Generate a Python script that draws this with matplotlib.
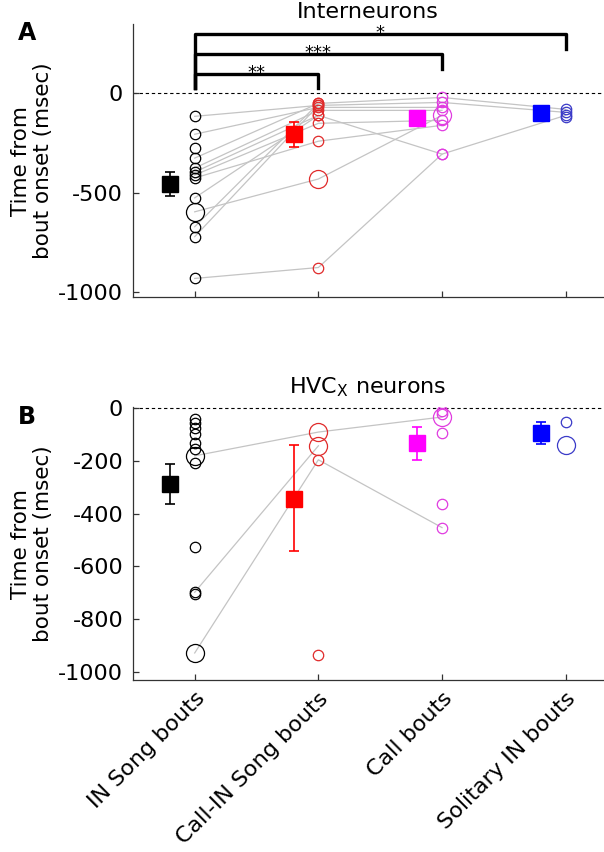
import numpy as np
import matplotlib
matplotlib.use("Agg")
import matplotlib.pyplot as plt

plt.rcParams["font.family"] = ["DejaVu Sans"]
plt.rcParams["axes.unicode_minus"] = False
plt.rcParams["mathtext.fontset"] = "dejavusans"

categories = ["IN Song bouts", "Call-IN Song bouts", "Call bouts", "Solitary IN bouts"]
nan = np.nan

# Panel A (interneurons): one entry per neuron, NaN = not recorded in that bout type
a_song = [-115, -205, -275, -325, -375, -395, -410, -425, -525, -595, -670, -720, -930, nan]
a_callin = [-60, -70, nan, -50, -85, -110, -150, -240, -110, -430, -50, -60, -875, nan]
a_call = [-45, -70, nan, -20, -85, -305, -135, -160, nan, -110, nan, nan, -305, nan]
a_solo = [-95, nan, nan, -80, nan, -110, nan, nan, nan, nan, nan, nan, nan, -120]
a_big = [(0, 9), (1, 9), (2, 9)]          # (category, neuron) with many bouts
a_mean = [-455, -205, -125, -100]
a_err_lo = [60, 65, 10, 10]
a_err_hi = [60, 60, 10, 10]

# Panel B (HVCx neurons)
b_song = [-42, -57, -75, -98, -132, -155, -181, -208, -528, -698, -706, -928,
          nan, nan, nan, nan, nan, nan, nan]
b_callin = [nan, nan, nan, nan, nan, nan, -91, nan, nan, -143, nan, -196,
            -936, nan, nan, nan, nan, nan, nan]
b_call = [nan, nan, nan, nan, nan, nan, -34, nan, nan, nan, nan, -453,
          nan, -11, -23, -94, -362, nan, nan]
b_solo = [nan, nan, nan, nan, nan, nan, nan, nan, nan, nan, nan, nan,
          nan, nan, nan, nan, nan, -53, -140]
b_big = [(0, 6), (0, 11), (1, 6), (1, 9), (2, 6), (3, 18)]
b_mean = [-287, -343, -132, -94]
b_err_lo = [75, 200, 64, 42]
b_err_hi = [76, 203, 60, 41]

# significance brackets for panel A: (from, to, stars)
brackets = [(1, 2, "**"), (1, 3, "***"), (1, 4, "*")]

mean_colors = ["black", "#ff0000", "#ff00ff", "#0000ff"]
circ_colors = ["black", "#e02a2a", "#e03ce0", "#3a3ac8"]
x = np.arange(1, 5)


def draw_panel(ax, cols, big, means, lo, hi):
    data = np.array(cols, dtype=float)  # shape (4, n)
    for n in range(data.shape[1]):
        ok = ~np.isnan(data[:, n])
        if ok.sum() > 1:
            ax.plot(x[ok], data[ok, n], color="#c4c4c4", lw=0.9, zorder=1)
    for c in range(4):
        for n in range(data.shape[1]):
            v = data[c, n]
            if np.isnan(v):
                continue
            ms = 13 if (c, n) in big else 7.5
            ax.plot(x[c], v, "o", ms=ms, mfc="none", mec=circ_colors[c], mew=0.9, zorder=3)
        ax.errorbar(x[c] - 0.2, means[c], yerr=[[lo[c]], [hi[c]]], fmt="s", ms=11.5,
                    color=mean_colors[c], ecolor=mean_colors[c], elinewidth=1.2,
                    capsize=3.5, capthick=1.2, zorder=4)
    ax.axhline(0, color="black", ls=(0, (3, 2.5)), lw=0.8, zorder=0)
    ax.set_xlim(0.5, 4.3)
    ax.set_xticks(x)
    ax.spines["top"].set_visible(False)
    ax.spines["right"].set_visible(False)
    for s in ("left", "bottom"):
        ax.spines[s].set_color("#333333")
        ax.spines[s].set_linewidth(0.9)
    ax.tick_params(direction="in", length=4, width=0.9, color="#333333", labelsize=16)
    ax.tick_params(axis="y", pad=7)
    ax.set_ylabel("Time from\nbout onset (msec)", fontsize=15.5, linespacing=1.1, labelpad=4)


fig = plt.figure(figsize=(6.04, 8.52), dpi=100)

ax1 = fig.add_axes([0.220, 0.651, 0.778, 0.321])
draw_panel(ax1, [a_song, a_callin, a_call, a_solo], a_big, a_mean, a_err_lo, a_err_hi)
ax1.set_ylim(-1025, 350)
ax1.set_yticks([-1000, -500, 0])
ax1.set_xticklabels([])
ax1.set_title("Interneurons", fontsize=16, pad=4)
for i, (a, b, stars) in enumerate(brackets):
    h = 100 + 100 * i
    ax1.plot([a, a, b, b], [25, h, h, h - 75], color="black", lw=2.4, zorder=5)
    ax1.text((a + b) / 2, h - 22, stars, ha="center", va="baseline", fontsize=13)
fig.text(0.03, 0.975, "A", fontsize=17, fontweight="bold", va="top")

ax2 = fig.add_axes([0.220, 0.202, 0.778, 0.320])
draw_panel(ax2, [b_song, b_callin, b_call, b_solo], b_big, b_mean, b_err_lo, b_err_hi)
ax2.set_ylim(-1030, 3)
ax2.set_yticks([-1000, -800, -600, -400, -200, 0])
ax2.set_xticklabels(categories, rotation=45, ha="right", rotation_mode="anchor", fontsize=16)
ax2.tick_params(axis="x", pad=6)
ax2.set_title(r"HVC$_\mathrm{X}$ neurons", fontsize=16, pad=10)
fig.text(0.03, 0.525, "B", fontsize=17, fontweight="bold", va="top")

fig.savefig("out.png", dpi=100)
